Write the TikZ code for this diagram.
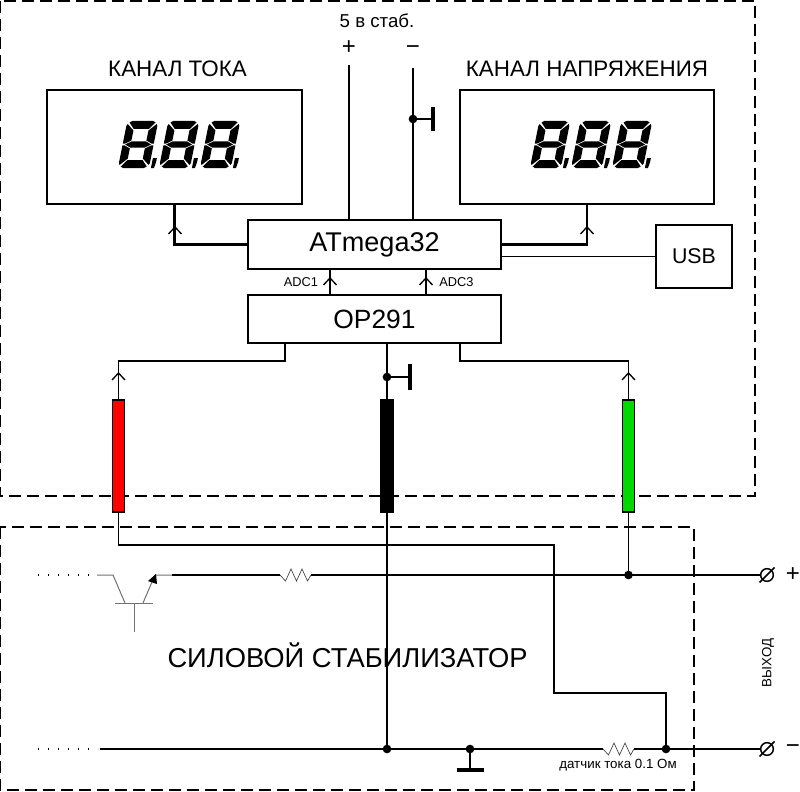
\documentclass[tikz,border=0pt]{standalone}
\usepackage{fontspec}
\setmainfont{Liberation Sans}
\usetikzlibrary{calc}
\newcommand{\fsz}[1]{\fontsize{#1}{#1}\selectfont}
\tikzset{
  x=0.75pt,y=-0.75pt,
  box/.style={draw,line width=1.2pt,fill=white,inner sep=0pt,outer sep=0pt},
  probe/.style={draw,line width=1pt,inner sep=0pt,outer sep=0pt,minimum width=9pt,minimum height=84pt},
  wire/.style={line width=1.1pt},
  thickwire/.style={line width=1.9pt},
  thinwire/.style={line width=0.75pt,color=black!55},
  bar/.style={line width=3pt},
  dotn/.style={circle,fill=black,inner sep=0pt,minimum size=6.5pt,outer sep=0pt},
  frame/.style={line width=0.9pt,dash pattern=on 9pt off 4.5pt},
  term/.style={circle,draw,line width=1.1pt,fill=white,inner sep=0pt,outer sep=0pt,minimum size=9.5pt},
  lbl/.style={inner sep=0pt,outer sep=0pt},
  chev/.pic={\draw[line width=1pt] (-6.5,7) -- (0,0) -- (6.5,7);},
  resist/.pic={\draw[line width=0.5pt,color=black!75] (0,0) -- (5.5,6) -- (11,-6) -- (16.5,6) -- (22,-6) -- (27.5,6) -- (31,0);},
  slash/.pic={\draw[line width=1.1pt] (-7.5,7.5) -- (7.5,-7.5);},
  digit/.pic={
    \begin{scope}[cm={1,0,0.2,1,(7pt,0)}]
    \fill (5,0)--(26,0)--(28.5,1.5)--(23,8)--(8,8)--(2.5,1.5)--cycle;
    \fill (1,3)--(8,9.5)--(8,19.5)--(2,22.7)--(0,22.7)--(0,5)--cycle;
    \fill (30,3)--(23,9.5)--(23,19.5)--(29,22.7)--(31,22.7)--(31,5)--cycle;
    \fill (2.5,23.5)--(8.5,20.3)--(22.5,20.3)--(28.5,23.5)--(22.5,26.7)--(8.5,26.7)--cycle;
    \fill (1,44)--(8,37.5)--(8,27.5)--(2,24.3)--(0,24.3)--(0,42)--cycle;
    \fill (30,44)--(23,37.5)--(23,27.5)--(29,24.3)--(31,24.3)--(31,42)--cycle;
    \fill (5,47)--(26,47)--(28.5,45.5)--(23,39)--(8,39)--(2.5,45.5)--cycle;
    \fill (33,37)--(37,37)--(37,41)--(36,47)--(33,47)--cycle;
    \end{scope}
  }
}
\begin{document}
\begin{tikzpicture}
\useasboundingbox (0,0) rectangle (800,792);
% dashed frames
\draw[frame] (0,1) rectangle (755,496);
\draw[frame] (0,527) rectangle (694,790);
% blocks
\node[box,minimum width=191.25pt,minimum height=85.5pt] (d1) at (174.5,147) {};
\node[box,minimum width=190.5pt,minimum height=85.5pt] (d2) at (587,147) {};
\node[box,minimum width=189.75pt,minimum height=36.75pt,font=\fsz{20.3}] (atm) at (374.5,244.5) {ATmega32};
\node[box,minimum width=189.75pt,minimum height=36pt,font=\fsz{19.8}] (op) at (374.5,319) {OP291};
\node[box,minimum width=57pt,minimum height=47.25pt,font=\fsz{16}] (usb) at (694,256.5) {USB};
% seven-segment digits
\foreach \x in {118,159,200} \path (\x,121) pic {digit};
\foreach \x in {530,571,612} \path (\x,121) pic {digit};
% captions
\node[lbl,font=\fsz{16.8}] (t1) at (177.5,69) {КАНАЛ ТОКА};
\node[lbl,font=\fsz{16.8}] (t2) at (587,69) {КАНАЛ НАПРЯЖЕНИЯ};
\node[lbl,font=\fsz{14}] (t3) at (377,21) {5 в стаб.};
\node[lbl,font=\fsz{18}] (pl) at (349,48) {+};
\node[lbl,font=\fsz{18}] (mi) at (413,50) {−};
\node[lbl,font=\fsz{20.5}] (t4) at (347.5,655) {СИЛОВОЙ СТАБИЛИЗАТОР};
\node[lbl,font=\fsz{10},rotate=90] (t5) at (768,663) {ВЫХОД};
\node[lbl,font=\fsz{10}] (t6) at (618,765) {датчик тока 0.1 Ом};
\node[lbl,font=\fsz{9.6}] (a1) at (301,282) {ADC1};
\node[lbl,font=\fsz{9.6}] (a3) at (456.5,282) {ADC3};
% coordinates
\coordinate (pt) at (349,65);
\coordinate (mt) at (413,68);
\coordinate (opL) at (285,343);
\coordinate (opR) at (460,343);
\coordinate (opM) at (387,343);
\node[probe,fill=red] (pr) at (118.5,456) {};
\node[probe,fill=black] (pb) at (387,456) {};
\node[probe,fill=green!85!black] (pg) at (628.5,456) {};
\node[dotn] (dtop) at (413,119) {};
\node[dotn] (dop) at (387,377) {};
\node[dotn] (d5) at (628.5,575) {};
\node[dotn] (d6) at (387,749) {};
\node[dotn] (d7) at (470,749) {};
\node[dotn] (d8) at (666,749) {};
\node[term] (tp) at (767,575) {};
\node[term] (tm) at (767,749) {};
\coordinate (gt) at (433,119);
\coordinate (gop) at (410,377);
\coordinate (gb) at (470,770);
\coordinate (r1a) at (280,575);
\coordinate (r1b) at (311,575);
\coordinate (r2a) at (603,749);
\coordinate (r2b) at (634,749);
% connectors
\draw[wire] (pt) -- (pt |- atm.north);
\draw[wire] (mt) -- (mt |- atm.north);
\draw[wire] (dtop) -- (gt);
\draw[bar] ($(gt)+(0,-12)$) -- ($(gt)+(0,12)$);
\draw[thickwire] (atm.west) -| (d1.south);
\draw[thickwire] (atm.east) -| (d2.south);
\draw[wire] (usb.west) -- (usb.west -| atm.east);
\draw[wire] (330,269) -- (330,295);
\draw[wire] (426,269) -- (426,295);
\draw[wire] (opL) -- (285,361) -- (118.5,361) -- (pr.north);
\draw[wire] (opR) -- (460,361) -- (628.5,361) -- (pg.north);
\draw[wire] (opM) -- (pb.north);
\draw[wire] (dop) -- (gop);
\draw[bar] ($(gop)+(0,-13)$) -- ($(gop)+(0,13)$);
\draw[wire] (pr.south) -- (118.5,545) -- (554,545) -- (554,693) -- (666,693) -- (d8);
\draw[wire] (pb.south) -- (d6);
\draw[wire] (pg.south) -- (d5);
\draw[wire] (172,575) -- (r1a);
\draw[wire] (r1b) -- (tp);
\draw[wire] (100,749) -- (r2a);
\draw[wire] (r2b) -- (tm);
\draw[wire] (d7) -- (gb);
\draw[bar] ($(gb)+(-13.5,0)$) -- ($(gb)+(13.5,0)$);
% dotted leads
\draw[line width=1pt,dash pattern=on 0.9pt off 6.6pt] (38,575) -- (96,575);
\draw[line width=1pt,dash pattern=on 0.9pt off 6.6pt] (38,749) -- (98,749);
% transistor
\draw[thinwire] (97,575) -- (113,575) -- (125,603);
\draw[thinwire] (115,603) -- (153,603);
\draw[thinwire] (134,603) -- (134,632);
\draw[thinwire] (143,603) -- (155,575) -- (172,575);
\fill (156,574) -- (157,584) -- (148,581) -- cycle;
% resistors
\path (r1a) pic {resist};
\path (r2a) pic {resist};
% chevrons
\path (175,227) pic {chev};
\path (587,227) pic {chev};
\path (330,278) pic {chev};
\path (426,278) pic {chev};
\path (118.5,373) pic {chev};
\path (628.5,373) pic {chev};
% terminals
\path (767,575) pic {slash};
\path (767,749) pic {slash};
\node[lbl,font=\fsz{18}] (tplus) at (793,575) {+};
\node[lbl,font=\fsz{18}] (tminus) at (793,749) {−};
\end{tikzpicture}
\end{document}
